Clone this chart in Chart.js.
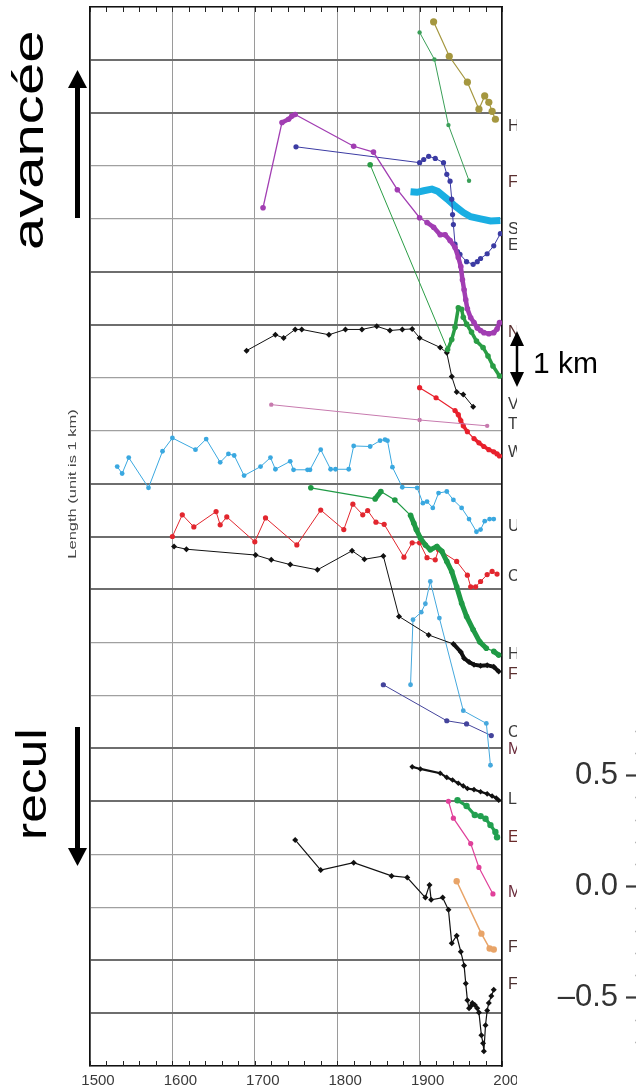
<!DOCTYPE html>
<html>
<head>
<meta charset="utf-8">
<script src="https://cdn.jsdelivr.net/npm/chart.js@4.4.1/dist/chart.umd.min.js"></script>
<style>
  html, body { margin: 0; padding: 0; background: #fff; width: 636px; height: 1091px; overflow: hidden; position: relative; }
  #clip { position: absolute; left: 0; top: 0; width: 517px; height: 1091px; overflow: hidden; }
  #main { position: absolute; left: 0; top: 0; }
  #frag { position: absolute; left: 540px; top: 700px; }
  #notes { position: absolute; left: 0; top: 0; }
</style>
</head>
<body>
<div id="clip"><canvas id="main" width="560" height="1091"></canvas></div>
<canvas id="frag" width="120" height="364"></canvas>
<svg id="notes" width="636" height="1091" font-family="Liberation Sans, Arial, Helvetica, sans-serif">
  <text transform="translate(43,250) rotate(-90) scale(1.35,1)" font-size="43" fill="#000">avancée</text>
  <line x1="77.5" y1="218" x2="77.5" y2="86" stroke="#000" stroke-width="5"/>
  <polygon points="77.5,70 68,88 87,88" fill="#000"/>
  <text transform="translate(46,840) rotate(-90) scale(1.2,1)" font-size="43" fill="#000">recul</text>
  <line x1="77.5" y1="727" x2="77.5" y2="850" stroke="#000" stroke-width="5"/>
  <polygon points="77.5,866 68,848 87,848" fill="#000"/>
  <text transform="translate(76,484) rotate(-90) scale(1.5,1)" text-anchor="middle" font-size="11" fill="#444">Length (unit is 1 km)</text>
  <line x1="517" y1="343" x2="517" y2="375" stroke="#000" stroke-width="2.5"/>
  <polygon points="517,331 510,346 524,346" fill="#000"/>
  <polygon points="517,387 510,372 524,372" fill="#000"/>
  <text x="533" y="373" font-size="30" fill="#000">1 km</text>
</svg>
<script>
// glacier length records, [year, length in km with stacking offset]
const oliveA = [[1917,19.72],[1936,19.07],[1958,18.58],[1972,18.07],[1979,18.32],[1984,18.20],[1988,18.03],[1992,17.88]];
const greenA = [[1900,19.52],[1918,19.01],[1935,17.77],[1960,16.72]];
const purpleA = [[1710,16.21],[1733,17.82],[1741,17.88],[1745,17.94],[1749,17.97],[1820,17.37],[1844,17.26],[1873,16.55],[1900,16.02],[1909,15.93],[1917,15.84],[1925,15.70],[1931,15.70],[1937,15.59],[1943,15.46],[1947,15.27],[1950,15.10],[1952,14.85],[1954,14.66],[1956,14.47],[1958,14.30],[1962,14.13],[1966,14.04],[1970,13.94],[1974,13.89],[1978,13.85],[1984,13.83],[1990,13.85],[1994,13.92],[1997,14.04]];
const navyA = [[1750,17.36],[1900,17.06],[1905,17.12],[1911,17.18],[1919,17.14],[1929,17.06],[1933,16.84],[1937,16.71],[1939,16.37],[1940,16.08],[1941,15.89],[1943,15.52],[1946,15.38],[1949,15.33],[1957,15.19],[1965,15.14],[1970,15.19],[1974,15.25],[1982,15.34],[1990,15.49],[1998,15.72]];
const cyanA = [[1889,16.51],[1897,16.50],[1905,16.53],[1915,16.56],[1922,16.52],[1933,16.38],[1943,16.24],[1953,16.12],[1962,16.04],[1974,16.00],[1986,15.96],[1998,15.97]];
const greenB = [[1840,17.02],[1934,13.53],[1939,13.72],[1943,13.95],[1947,14.32],[1951,14.29],[1953,14.14],[1957,14.01],[1963,13.86],[1969,13.69],[1977,13.57],[1983,13.41],[1989,13.22],[1997,13.03]];
const blackA = [[1690,13.51],[1725,13.81],[1735,13.75],[1749,13.91],[1757,13.91],[1790,13.81],[1810,13.91],[1830,13.91],[1848,13.97],[1864,13.89],[1879,13.91],[1891,13.92],[1900,13.75],[1925,13.57],[1933,13.47],[1939,13.02],[1945,12.73],[1953,12.68],[1965,12.45]];
const pinkA = [[1720,12.49],[1900,12.20],[1982,12.09]];
const redA = [[1900,12.81],[1920,12.62],[1943,12.38],[1947,12.30],[1950,12.19],[1953,12.09],[1958,11.98],[1966,11.85],[1972,11.77],[1978,11.70],[1984,11.64],[1990,11.60],[1994,11.56],[1997,11.52]];
const blueA = [[1533,11.32],[1539,11.19],[1547,11.49],[1571,10.92],[1588,11.61],[1600,11.86],[1628,11.64],[1641,11.84],[1658,11.40],[1668,11.56],[1675,11.53],[1687,11.15],[1707,11.32],[1719,11.49],[1725,11.27],[1743,11.42],[1747,11.26],[1764,11.26],[1767,11.26],[1780,11.64],[1792,11.27],[1798,11.27],[1814,11.27],[1820,11.71],[1840,11.70],[1852,11.81],[1858,11.83],[1861,11.81],[1867,11.31],[1879,10.93],[1897,10.92],[1904,10.63],[1909,10.66],[1916,10.54],[1923,10.82],[1933,10.85],[1941,10.69],[1951,10.54],[1960,10.33],[1969,10.09],[1974,10.13],[1979,10.29],[1985,10.33],[1990,10.33]];
const greenC = [[1768,10.92],[1846,10.71],[1853,10.85],[1870,10.69],[1889,10.40],[1893,10.25],[1896,10.13],[1901,9.97],[1907,9.84],[1913,9.75],[1921,9.81],[1927,9.72],[1933,9.53],[1939,9.34],[1945,9.05],[1951,8.74],[1957,8.49],[1965,8.24],[1973,8.01],[1981,7.89],[1990,7.83],[1996,7.76]];
const redB = [[1600,10.00],[1612,10.41],[1626,10.18],[1653,10.47],[1658,10.22],[1666,10.37],[1700,9.90],[1713,10.35],[1751,9.84],[1780,10.50],[1808,10.13],[1819,10.61],[1831,10.41],[1837,10.49],[1847,10.27],[1857,10.23],[1881,9.61],[1891,9.88],[1900,9.88],[1909,9.60],[1919,9.56],[1923,9.75],[1945,9.53],[1958,9.27],[1962,9.05],[1968,9.05],[1974,9.15],[1982,9.28],[1988,9.34],[1994,9.29]];
const blackB = [[1602,9.81],[1617,9.76],[1701,9.65],[1720,9.56],[1743,9.47],[1776,9.37],[1818,9.73],[1833,9.57],[1856,9.63],[1875,8.49],[1911,8.14],[1941,7.97],[1950,7.82],[1954,7.70],[1960,7.63],[1966,7.58],[1974,7.56],[1982,7.57],[1990,7.54],[1996,7.45]];
const blueB = [[1889,7.20],[1892,8.43],[1902,8.57],[1907,8.73],[1913,9.15],[1924,8.46],[1953,6.71],[1981,6.47],[1986,5.68]];
const navyB = [[1856,7.20],[1933,6.52],[1957,6.46],[1987,6.24]];
const blackC = [[1891,5.65],[1901,5.61],[1925,5.53],[1933,5.45],[1940,5.40],[1947,5.34],[1953,5.29],[1958,5.24],[1966,5.22],[1974,5.18],[1982,5.14],[1988,5.10],[1993,5.06],[1996,5.02]];
const greenD = [[1946,5.02],[1957,4.91],[1967,4.74],[1974,4.72],[1980,4.67],[1986,4.55],[1992,4.42],[1994,4.32]];
const pinkB = [[1935,5.00],[1941,4.68],[1962,4.20],[1972,3.75],[1989,3.25]];
const orangeA = [[1945,3.49],[1975,2.50],[1985,2.22],[1990,2.20]];
const blackD = [[1749,4.27],[1780,3.70],[1820,3.84],[1866,3.59],[1885,3.56],[1907,3.18],[1912,3.42],[1914,3.14],[1928,3.18],[1935,2.95],[1939,2.32],[1945,2.46],[1950,2.16],[1954,1.90],[1956,1.56],[1958,1.24],[1960,1.09],[1962,1.13],[1964,1.19],[1967,1.15],[1970,1.09],[1972,1.01],[1975,0.58],[1977,0.43],[1978,0.28],[1980,0.77],[1982,1.05],[1984,1.19],[1987,1.32],[1990,1.44]];

// truncated glacier names at the right edge and the level they sit at
const nameLetters = ['H','F','S','E','N','V','T','W','U','C','H','F','C','M','L','E','M','F','F'];
const nameLevels = [17.75,16.69,15.80,15.50,13.85,12.49,12.11,11.59,10.19,9.25,7.77,7.40,6.30,5.97,5.04,4.31,3.28,2.24,1.53];
const nameColors = ['#3a3030','#5a3030','#3a3a3a','#3a3a3a','#5a3030','#3a3a3a','#3a3a3a','#3a3a3a','#3a3a3a','#3a3a3a','#3a3a3a','#5a3030','#3a3a3a','#6a2a3a','#3a3a3a','#6a2a2a','#6a2a3a','#4a3030','#4a3030'];

const yearTicks = [1500, 1600, 1700, 1800, 1900, 2000];
const heavyLevels = [1, 2, 5, 6, 9, 10, 11, 14, 15, 18, 19];
const fragTicks = [-0.5, 0, 0.5];

const FONT = "'Liberation Sans', Arial, Helvetica, sans-serif";

const series = [
  { pts: oliveA,  color: '#a5973f', r: 3.6, thin: 1.2 },
  { pts: greenA,  color: '#3a9f58', r: 2.2, thin: 1 },
  { pts: purpleA, color: '#a13db2', r: 2.8, thin: 1.3, thick: 4.5, gap: 8 },
  { pts: navyA,   color: '#3b3ba3', r: 2.6, thin: 1 },
  { pts: cyanA,   color: '#1aaee2', r: 0,   thin: 7 },
  { pts: greenB,  color: '#2a9d45', r: 2.8, thin: 1, thick: 3.5, gap: 8 },
  { pts: blackA,  color: '#111111', r: 3,   thin: 1, shape: 'rectRot' },
  { pts: pinkA,   color: '#c77aae', r: 2.2, thin: 1 },
  { pts: redA,    color: '#e8202c', r: 2.6, thin: 1.2, thick: 3.5, gap: 7 },
  { pts: blueA,   color: '#3aa8e0', r: 2.4, thin: 1 },
  { pts: greenC,  color: '#1f9a45', r: 2.8, thin: 1.2, thick: 5, gap: 8 },
  { pts: redB,    color: '#e2262e', r: 2.6, thin: 1 },
  { pts: blackB,  color: '#111111', r: 3,   thin: 1, thick: 4, gap: 9, shape: 'rectRot' },
  { pts: blueB,   color: '#45a8dd', r: 2.4, thin: 1 },
  { pts: navyB,   color: '#44449c', r: 2.6, thin: 1 },
  { pts: blackC,  color: '#111111', r: 2.8, thin: 2.2, shape: 'rectRot' },
  { pts: greenD,  color: '#22a050', r: 3.2, thin: 3.2 },
  { pts: pinkB,   color: '#e0409a', r: 2.6, thin: 1.2 },
  { pts: orangeA, color: '#e8a468', r: 3.2, thin: 1.5 },
  { pts: blackD,  color: '#111111', r: 3,   thin: 1.2, shape: 'rectRot' },
];

const datasets = series.map(s => ({
  data: s.pts.map(p => ({ x: p[0], y: p[1] })),
  borderColor: s.color,
  backgroundColor: s.color,
  borderWidth: s.thin,
  pointRadius: s.r,
  pointStyle: s.shape || 'circle',
  pointBorderWidth: 0,
  pointBackgroundColor: s.color,
  showLine: true,
  tension: 0,
  segment: s.thick ? {
    borderWidth: ctx => (ctx.p1.parsed.x - ctx.p0.parsed.x) <= s.gap ? s.thick : s.thin,
  } : undefined,
}));

// small inside ticks along top and bottom, plus the cut-off names
const framePlugin = {
  id: 'frame',
  afterDraw(chart) {
    const { ctx, chartArea } = chart;
    const xs = chart.scales.x, ys = chart.scales.y;
    ctx.save();
    ctx.strokeStyle = '#222';
    ctx.lineWidth = 1;
    for (let yr = 1500; yr <= 2000; yr += 20) {
      const px = Math.round(xs.getPixelForValue(yr)) + 0.5;
      ctx.beginPath();
      ctx.moveTo(px, chartArea.top);
      ctx.lineTo(px, chartArea.top + 5);
      ctx.moveTo(px, chartArea.bottom);
      ctx.lineTo(px, chartArea.bottom - 5);
      ctx.stroke();
    }
    ctx.font = '16px ' + FONT;
    ctx.textBaseline = 'middle';
    nameLetters.forEach((t, i) => {
      ctx.fillStyle = nameColors[i];
      ctx.fillText(t, chartArea.right + 6, ys.getPixelForValue(nameLevels[i]));
    });
    ctx.restore();
  },
};

new Chart(document.getElementById('main'), {
  type: 'scatter',
  data: { datasets },
  options: {
    responsive: false,
    animation: false,
    layout: { padding: { left: 90, right: 58, top: 7, bottom: 0 } },
    plugins: { legend: { display: false }, tooltip: { enabled: false } },
    scales: {
      x: {
        type: 'linear', position: 'bottom', min: 1500, max: 2000,
        afterBuildTicks: s => { s.ticks = yearTicks.map(v => ({ value: v })); },
        ticks: { color: '#3a3a3a', font: { size: 15, family: FONT }, padding: 6, labelOffset: 8, maxRotation: 0, callback: v => String(v) },
        grid: { color: '#9a9a9a', lineWidth: 1, drawTicks: false },
        border: { color: '#111', width: 1.5 },
        afterFit: s => { s.height = 25; s.paddingLeft = 0; s.paddingRight = 0; },
      },
      xTop: {
        type: 'linear', position: 'top', min: 1500, max: 2000,
        ticks: { display: false },
        grid: { drawOnChartArea: false, drawTicks: false },
        border: { color: '#111', width: 1.5 },
        afterFit: s => { s.height = 0; },
      },
      y: {
        type: 'linear', position: 'left', min: 0, max: 20,
        ticks: { display: false, stepSize: 1 },
        grid: {
          drawTicks: false,
          color: c => heavyLevels.includes(c.tick.value) ? '#6e6e6e' : '#a0a0a0',
          lineWidth: c => heavyLevels.includes(c.tick.value) ? 2 : 1.2,
        },
        border: { color: '#111', width: 1.5 },
        afterFit: s => { s.width = 0; },
      },
      yRight: {
        type: 'linear', position: 'right', min: 0, max: 20,
        ticks: { display: false },
        grid: { drawOnChartArea: false, drawTicks: false },
        border: { color: '#111', width: 1.5 },
        afterFit: s => { s.width = 0; },
      },
    },
  },
  plugins: [framePlugin],
});

// fragment of the neighbouring panel's axis
const minorPlugin = {
  id: 'minor',
  afterDraw(chart) {
    const { ctx, chartArea } = chart;
    const ys = chart.scales.y;
    ctx.save();
    ctx.strokeStyle = '#b5b5b5';
    ctx.lineWidth = 1.5;
    for (let k = -7; k <= 7; k++) {
      if (k % 5 === 0) continue;
      const py = Math.round(ys.getPixelForValue(k / 10)) + 0.5;
      ctx.beginPath();
      ctx.moveTo(chartArea.left - 3, py);
      ctx.lineTo(chartArea.left, py);
      ctx.stroke();
    }
    ctx.restore();
  },
};

new Chart(document.getElementById('frag'), {
  type: 'scatter',
  data: { datasets: [] },
  options: {
    responsive: false,
    animation: false,
    layout: { padding: { left: 0, right: 0, top: 8.4, bottom: 0 } },
    plugins: { legend: { display: false }, tooltip: { enabled: false } },
    scales: {
      x: { display: false, min: 0, max: 1 },
      y: {
        min: -0.8, max: 0.8,
        afterBuildTicks: s => { s.ticks = fragTicks.map(v => ({ value: v })); },
        ticks: { color: '#333', font: { size: 31, family: FONT }, padding: 8, callback: v => (v < 0 ? '\u2013' : '') + Math.abs(v).toFixed(1) },
        grid: { drawOnChartArea: false, tickLength: 12, tickColor: '#3a3a3a', tickWidth: 2.2 },
        border: { display: false },
        afterFit: s => { s.width = 98; s.paddingTop = 0; s.paddingBottom = 0; },
      },
    },
  },
  plugins: [minorPlugin],
});
</script>
</body>
</html>
